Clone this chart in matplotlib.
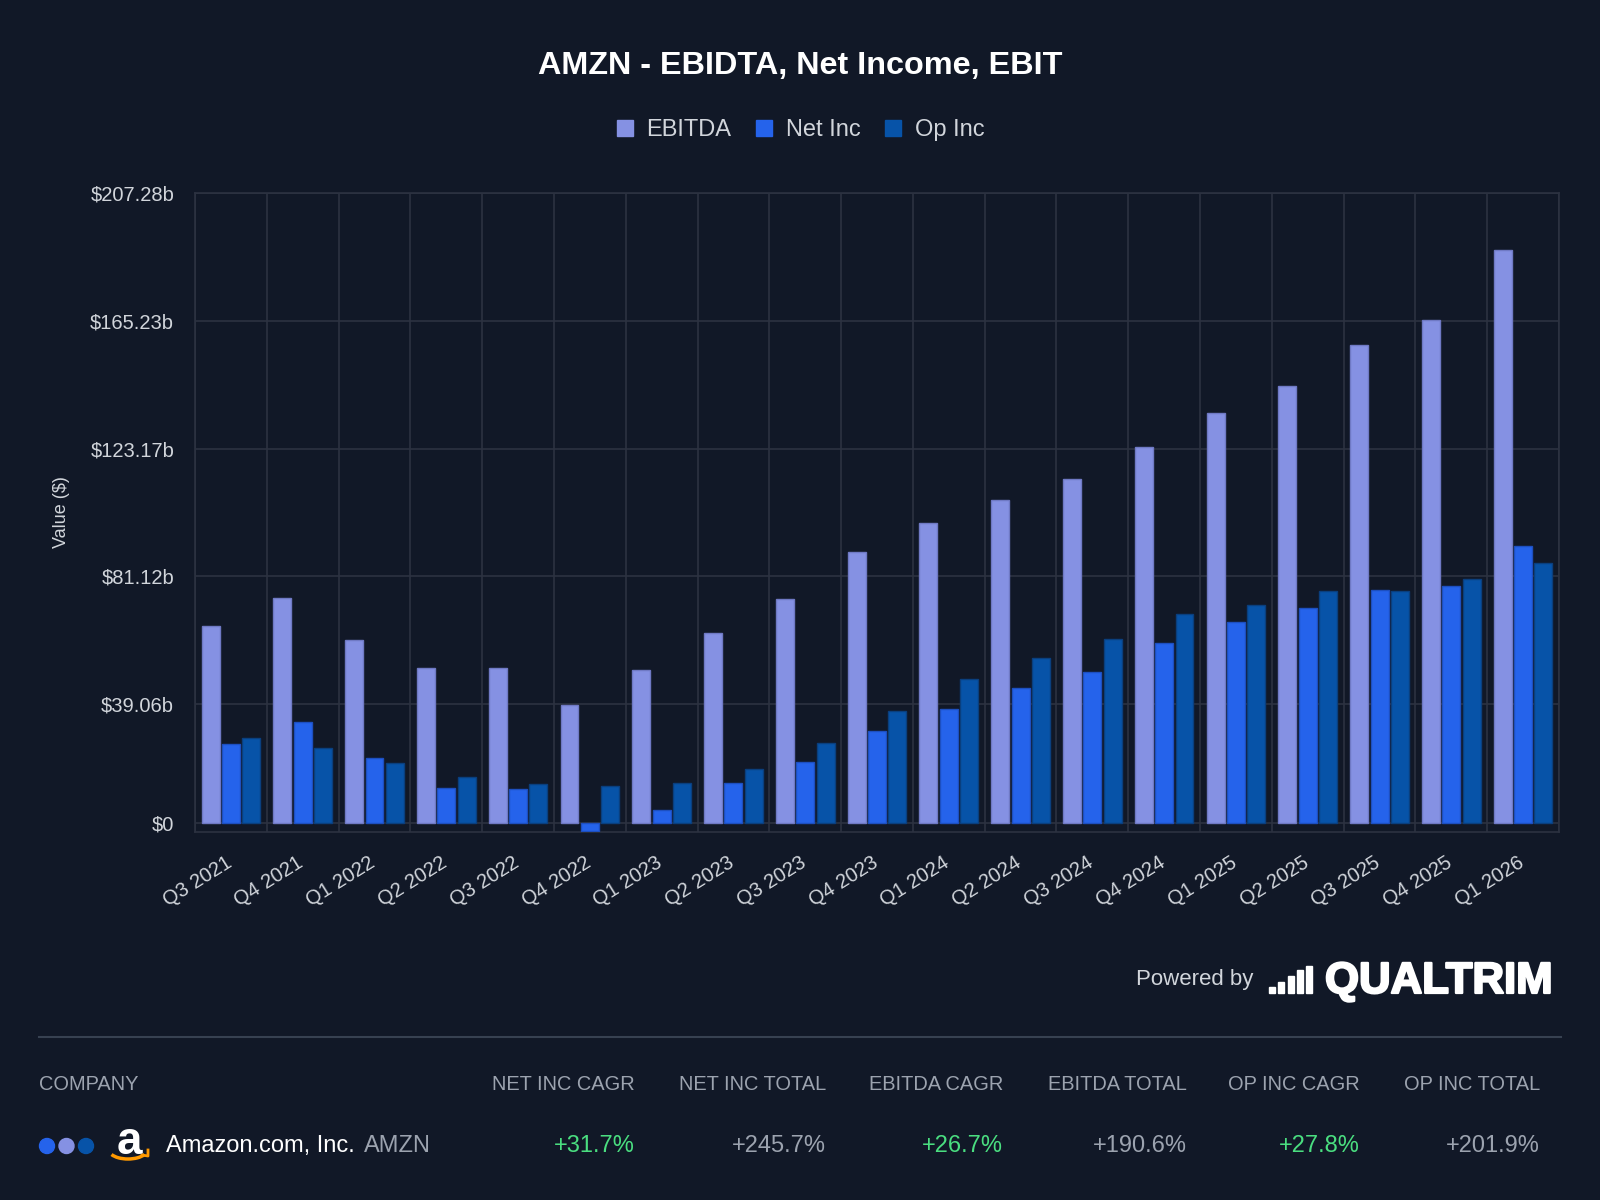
import matplotlib
matplotlib.use("Agg")
import matplotlib.pyplot as plt
import matplotlib.transforms as mtransforms
import numpy as np
from matplotlib.lines import Line2D
from matplotlib.patches import Rectangle, Ellipse, Arc
import matplotlib.patheffects as pe

# ---------------- data ----------------
quarters = ["Q3 2021", "Q4 2021", "Q1 2022", "Q2 2022", "Q3 2022", "Q4 2022",
            "Q1 2023", "Q2 2023", "Q3 2023", "Q4 2023", "Q1 2024", "Q2 2024",
            "Q3 2024", "Q4 2024", "Q1 2025", "Q2 2025", "Q3 2025", "Q4 2025",
            "Q1 2026"]
ebitda = [64.6, 74.0, 60.2, 50.8, 50.9, 38.7, 50.4, 62.6, 73.8, 89.2, 98.5,
          106.3, 113.3, 123.6, 135.0, 143.8, 157.2, 165.4, 188.5]
net_inc = [25.9, 33.0, 21.2, 11.4, 11.2, -2.7, 4.3, 13.0, 20.0, 30.3, 37.5,
           44.2, 49.7, 59.1, 66.1, 70.8, 76.6, 77.8, 91.0]
op_inc = [27.9, 24.6, 19.5, 15.1, 12.9, 12.2, 13.2, 17.6, 26.2, 36.7, 47.2,
          54.2, 60.4, 68.6, 71.8, 76.4, 76.4, 80.2, 85.6]
series_names = ["EBITDA", "Net Inc", "Op Inc"]
y_ticks = [0, 39.06, 81.12, 123.17, 165.23, 207.28]
y_tick_labels = ["$0", "$39.06b", "$81.12b", "$123.17b", "$165.23b", "$207.28b"]

table_headers = ["NET INC CAGR", "NET INC TOTAL", "EBITDA CAGR", "EBITDA TOTAL",
                 "OP INC CAGR", "OP INC TOTAL"]
table_values = ["+31.7%", "+245.7%", "+26.7%", "+190.6%", "+27.8%", "+201.9%"]
company_name = "Amazon.com, Inc."
ticker = "AMZN"

# ---------------- style ----------------
BG = "#111827"
GRID = "#2c3241"
TXT = "#d1d5db"
GRAY = "#9ca3af"
GREEN = "#4ade80"
colors = ["#8591e3", "#2563eb", "#0753a8"]
edges = ["#6f79c4", "#1d4fc0", "#0a3f7e"]

plt.rcParams["font.family"] = ["Liberation Sans", "DejaVu Sans"]

W, H = 1600, 1200
fig = plt.figure(figsize=(16, 12), dpi=100, facecolor=BG)


def fx(x):
    return x / W


def fy(y):
    return 1 - y / H


ax = fig.add_axes([fx(195), fy(832), fx(1559) - fx(195), fy(193) - fy(832)])
ax.set_facecolor(BG)

x = np.arange(len(quarters))
slot = 0.283
bw = 0.25
for j, (vals, name) in enumerate(zip([ebitda, net_inc, op_inc], series_names)):
    ax.bar(x + (j - 1) * slot, vals, width=bw, color=colors[j],
           edgecolor=edges[j], linewidth=1.0, label=name, zorder=3)

ax.set_xlim(-0.5, len(quarters) - 0.5)
ax.set_ylim(-3.05, 207.28)
ax.set_yticks(y_ticks)
ax.set_yticklabels(y_tick_labels)
ax.set_xticks(x)
ax.set_xticklabels(quarters, rotation=32, ha="right", va="top",
                   rotation_mode="anchor")
ax.set_xticks(np.arange(-0.5, len(quarters) + 0.5, 1.0), minor=True)
ax.tick_params(axis="x", which="major", length=0, pad=14, labelsize=14.5,
               colors=TXT)
ax.tick_params(axis="x", which="minor", length=0)
ax.tick_params(axis="y", length=0, pad=15, labelsize=14.5, colors=TXT)
shift = mtransforms.ScaledTranslation(-6 / 100, -2 / 100, fig.dpi_scale_trans)
for lbl in ax.get_xticklabels():
    lbl.set_transform(lbl.get_transform() + shift)
ax.grid(axis="y", which="major", color=GRID, linewidth=1.2, zorder=0)
ax.grid(axis="x", which="minor", color=GRID, linewidth=1.2, zorder=0)
ax.grid(axis="x", which="major", visible=False)
for s in ax.spines.values():
    s.set_color(GRID)
    s.set_linewidth(1.2)

ax.set_ylabel("Value ($)", color=TXT, fontsize=13)
ax.yaxis.set_label_coords((70 - 195) / 1364, 0.5)

# legend
handles = [Line2D([], [], marker="s", linestyle="none", markersize=12,
                  markerfacecolor=c, markeredgecolor=c) for c in colors]
leg = fig.legend(handles, series_names, loc="center",
                 bbox_to_anchor=(0.5, fy(130)), ncol=3, frameon=False,
                 fontsize=17, handlelength=0.8, handletextpad=0.5,
                 columnspacing=1.0, labelcolor=TXT)

# title
fig.text(0.5, fy(66), "AMZN - EBIDTA, Net Income, EBIT", ha="center",
         va="center", fontsize=23.3, fontweight="bold", color="white")

# powered by
fig.text(fx(1253), fy(980), "Powered by", ha="right", va="center",
         fontsize=16, color=TXT)
bar_h = [6, 11, 17, 23, 27]
for i, h in enumerate(bar_h):
    fig.add_artist(Rectangle((fx(1269 + i * 9.3), fy(993)), fx(6), h / H,
                             transform=fig.transFigure, color="white",
                             zorder=5))
fig.text(fx(1325), fy(993), "QUALTRIM", ha="left", va="baseline",
         fontsize=31.5, fontweight="bold", color="white",
         path_effects=[pe.withStroke(linewidth=1.6, foreground="white")])

# separator
fig.add_artist(Line2D([fx(39), fx(1561)], [fy(1037), fy(1037)],
                      transform=fig.transFigure, color="#374151",
                      linewidth=1.5))

# table header
fig.text(fx(39), fy(1085), "COMPANY", ha="left", va="center", fontsize=14.4,
         color=GRAY)
col_right = [635, 826, 1003, 1187, 1360, 1540]
for xr, hdr, val in zip(col_right, table_headers, table_values):
    fig.text(fx(xr), fy(1085), hdr, ha="right", va="center", fontsize=14.4,
             color=GRAY)
    vc = GREEN if "CAGR" in hdr else GRAY
    fig.text(fx(xr), fy(1146), val, ha="right", va="center", fontsize=17,
             color=vc)

# company row
dot_cols = [colors[1], colors[0], colors[2]]
for i, c in enumerate(dot_cols):
    fig.add_artist(Ellipse((fx(47 + i * 19.5), fy(1146)), 15 / W, 15 / H,
                           transform=fig.transFigure, color=c))
# amazon logo
fig.text(fx(129), fy(1142), "a", ha="center", va="center", fontsize=33,
         fontweight="bold", color="white")
fig.add_artist(Arc((fx(128), fy(1150)), 38 / W, 18 / H, theta1=200,
                   theta2=340, transform=fig.transFigure, color="#ff9900",
                   linewidth=2.5))
fig.add_artist(Line2D([fx(142), fx(148), fx(148)],
                      [fy(1155), fy(1156), fy(1150)],
                      transform=fig.transFigure, color="#ff9900",
                      linewidth=2))
fig.text(fx(166), fy(1146), company_name, ha="left", va="center",
         fontsize=17, color="white")
fig.text(fx(364), fy(1146), ticker, ha="left", va="center", fontsize=17,
         color=GRAY)

fig.savefig("out.png", dpi=100, facecolor=BG)
